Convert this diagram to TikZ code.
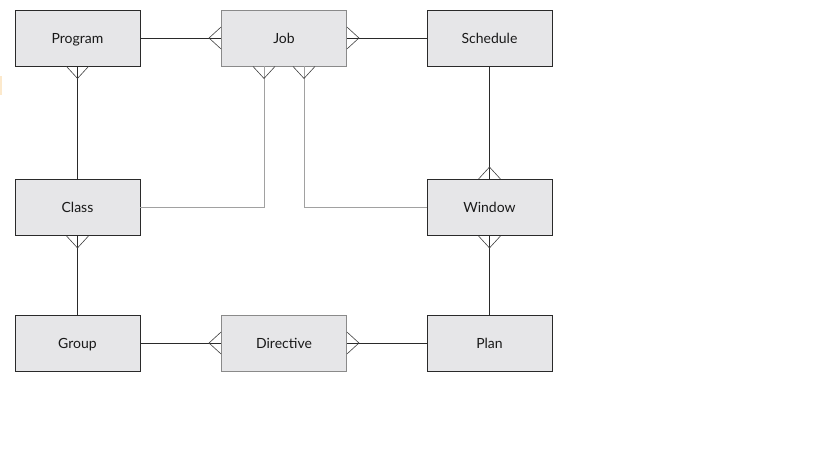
\documentclass[tikz,border=0pt]{standalone}
\usepackage{fontspec}
\setmainfont{Lato}
\usetikzlibrary{calc}
\definecolor{boxfill}{HTML}{E6E6E8}
\definecolor{boxline}{HTML}{2A2A2A}
\definecolor{softline}{HTML}{8A8A8A}
\definecolor{orangetint}{HTML}{FCE9CC}
\tikzset{
  ent/.style={draw=boxline, fill=boxfill, line width=0.9pt, minimum width=125pt, minimum height=56pt, inner sep=0pt, text height=12pt, text depth=1.5pt, font=\fontsize{14}{16}\selectfont, text=black!90},
  entsoft/.style={ent, draw=softline},
  rel/.style={draw=boxline, line width=0.9pt},
  relsoft/.style={draw=softline!80, line width=0.9pt},
  ft/.style={draw=black!75, line width=0.6pt}
}
\newcommand\footv[2]{\draw[ft] ([xshift=-11pt]#1) -- ([yshift=#2]#1) -- ([xshift=11pt]#1);}
\newcommand\footh[2]{\draw[ft] ([yshift=-11pt]#1) -- ([xshift=#2]#1) -- ([yshift=11pt]#1);}
\begin{document}
\begin{tikzpicture}[x=1pt,y=-1pt]
\useasboundingbox (0,0) rectangle (819,460);
\fill[orangetint] (0,76) rectangle (2,95);
\node[ent] (prog) at (77.5,38) {Program};
\node[entsoft] (job) at (284,38) {Job};
\node[ent] (sched) at (489.5,38) {Schedule};
\node[ent] (class) at (77.5,207.5) {Class};
\node[ent] (win) at (489.5,207.5) {Window};
\node[ent] (group) at (77.5,343) {Group};
\node[entsoft] (dir) at (284,343) {Directive};
\node[ent] (plan) at (489.5,343) {Plan};
\coordinate (jl) at ($(job.south)+(-20,0)$);
\coordinate (jr) at ($(job.south)+(20,0)$);
\draw[rel] (prog.east) -- (job.west);
\draw[rel] (job.east) -- (sched.west);
\draw[rel] (prog.south) -- (class.north);
\draw[rel] (sched.south) -- (win.north);
\draw[relsoft] (jl) |- (class.east);
\draw[relsoft] (jr) |- (win.west);
\draw[rel] (class.south) -- (group.north);
\draw[rel] (win.south) -- (plan.north);
\draw[rel] (group.east) -- (dir.west);
\draw[rel] (dir.east) -- (plan.west);
\footh{job.west}{-12pt}
\footh{job.east}{12pt}
\footv{prog.south}{-12pt}
\footv{jl}{-12pt}
\footv{jr}{-12pt}
\footv{win.north}{12pt}
\footv{win.south}{-12pt}
\footv{class.south}{-12pt}
\footh{dir.west}{-12pt}
\footh{dir.east}{12pt}
\end{tikzpicture}
\end{document}
